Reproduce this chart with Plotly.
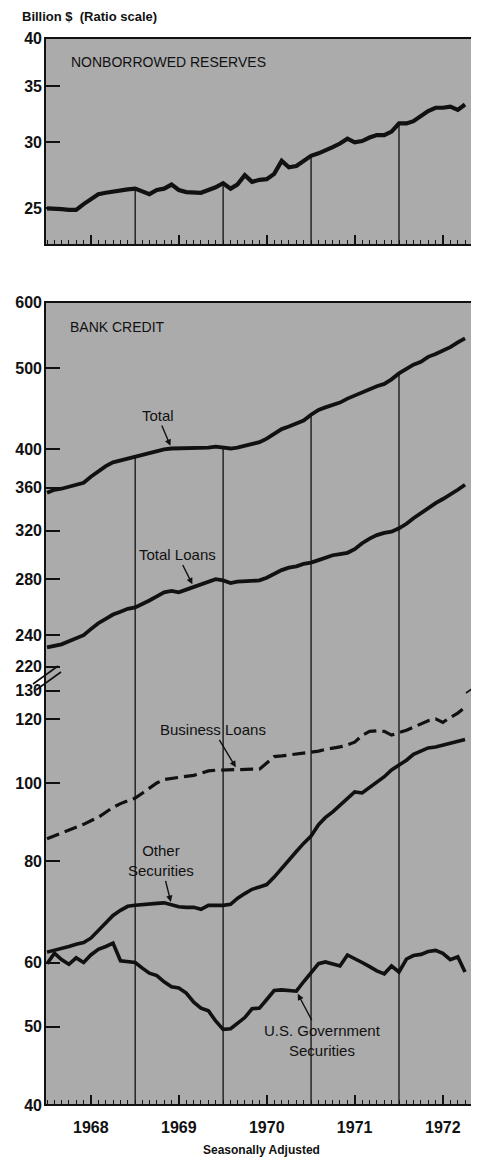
import numpy as np
import pandas as pd
import plotly.graph_objects as go

# ---------------- data (monthly, Jan 1968 - Oct 1972) ----------------
months = pd.date_range("1968-01-01", periods=58, freq="MS")

nonborrowed_reserves = [25.0, 25.0, 24.95, 24.9, 24.9, 25.3, 25.6, 26.0, 26.1, 26.2,
                        26.3, 26.35, 26.4, 26.2, 26.0, 26.3, 26.4, 26.7, 26.3, 26.15,
                        26.1, 26.1, 26.3, 26.5, 26.8, 26.4, 26.7, 27.4, 26.9, 27.05,
                        27.1, 27.5, 28.5, 28.0, 28.1, 28.5, 28.9, 29.1, 29.3, 29.6,
                        29.9, 30.3, 30.0, 30.1, 30.4, 30.6, 30.6, 30.9, 31.6, 31.6,
                        31.8, 32.3, 32.7, 33.0, 33.0, 33.1, 32.8, 33.3]

total_credit = [355, 358, 359, 361, 363, 365, 371, 377, 382, 386,
                388, 390, 392, 394, 396, 398, 400, 401, 401, 401,
                401, 401, 402, 403, 402, 401, 402, 404, 406, 408,
                412, 418, 423, 426, 429, 433, 440, 446, 449, 452,
                455, 460, 464, 468, 472, 476, 479, 485, 493, 499,
                505, 509, 516, 520, 525, 530, 537, 543]

total_loans = [232, 233, 234, 236, 238, 240, 244, 248, 251, 254,
               256, 258, 259, 262, 264, 267, 270, 271, 270, 272,
               274, 276, 278, 280, 279, 277, 278, 278.5, 279, 279,
               281, 284, 287, 289, 290, 292, 293, 295, 297, 299,
               300, 301, 304, 309, 313, 316, 318, 319, 322, 326,
               331, 336, 340, 345, 349, 353, 358, 363]

business_loans = [85.3, 86.0, 86.8, 87.5, 88.2, 88.9, 89.8, 90.7, 92.0, 93.3,
                  94.3, 95.0, 95.8, 97.2, 98.6, 100.0, 101.0, 101.3, 101.5, 101.7,
                  102.2, 102.8, 103.5, 103.7, 103.8, 103.8, 103.8, 103.9, 104.0, 104.0,
                  106.0, 107.8, 108.0, 108.3, 108.5, 108.7, 109.0, 109.5, 110.0, 110.3,
                  110.8, 111.5, 112.3, 114.5, 115.8, 116.0, 115.8, 114.6, 115.3, 116.2,
                  117.2, 118.3, 119.4, 120.0, 118.8, 120.5, 122.0, 124.0]

other_securities = [61.8, 62.1, 62.4, 62.8, 63.2, 63.5, 64.3, 65.8, 67.2, 68.6,
                    69.6, 70.4, 70.6, 70.8, 70.9, 71.0, 71.1, 70.7, 70.3, 70.2,
                    70.2, 69.8, 70.6, 70.6, 70.6, 70.8, 72.0, 73.0, 73.9, 74.4,
                    74.9, 76.5, 78.5, 80.5, 82.3, 84.2, 86.0, 88.8, 90.6, 92.1,
                    93.8, 95.8, 97.5, 97.2, 98.8, 100.3, 101.8, 103.8, 105.3, 106.7,
                    108.5, 109.6, 110.5, 110.8, 111.4, 112.1, 112.8, 113.2]

us_gov_securities = [59.8, 61.6, 60.5, 59.7, 60.8, 60.0, 61.3, 62.3, 62.8, 63.4,
                     60.3, 60.2, 60.0, 59.0, 58.2, 57.8, 56.8, 56.0, 55.8, 55.0,
                     53.6, 52.7, 52.3, 50.8, 49.6, 49.7, 50.4, 51.3, 52.6, 52.7,
                     54.0, 55.4, 55.5, 55.4, 55.3, 56.8, 58.4, 59.8, 60.1, 59.8,
                     59.4, 61.3, 60.7, 60.0, 59.3, 58.6, 58.1, 59.4, 58.4, 60.6,
                     61.2, 61.4, 61.9, 62.1, 61.6, 60.5, 61.0, 58.4]

year_labels = ["1968", "1969", "1970", "1971", "1972"]
top_ticks = [25, 30, 35, 40]
upper_ticks = [220, 240, 280, 320, 360, 400, 500, 600]
lower_ticks = [40, 50, 60, 80, 100, 120, 130]

# ---------------- geometry ----------------
# the page body has an 8px margin, so the figure is drawn 8px smaller
OFF = 8
W, H = 479 - OFF, 1158 - OFF
ML, MR, MT, MB = 45 - OFF, 0, 38 - OFF, H - (1105 - OFF)
PH = H - MT - MB          # plot height in px
PW = W - ML - MR


def py(yref_px):
    """page pixel (reference coords) -> paper fraction"""
    return (H - MB - (yref_px - OFF)) / PH


def pxf(xref_px):
    return (xref_px - OFF - ML) / PW


top_range = [np.log10(22.6), np.log10(40)]
upper_range = [np.log10(213.9), np.log10(600)]
lower_range = [np.log10(40), np.log10(135.2)]

t0 = pd.Timestamp("1968-01-01")
px_per_year = 88.0
x_left = t0 + pd.Timedelta(days=(45 - 47) / px_per_year * 365.25)
x_right = t0 + pd.Timedelta(days=(479 - 47) / px_per_year * 365.25)

mid_years = [pd.Timestamp(f"{y}-07-01") for y in year_labels]
month_ticks = pd.date_range("1968-01-01", "1972-12-01", freq="MS")

INK = "#111111"
BG = "#ababab"
tickfont = dict(family="Liberation Sans, Arial, sans-serif", size=16, color=INK, weight="bold")
labfont = dict(family="Liberation Sans, Arial, sans-serif", size=15, color=INK)

fig = go.Figure()

# ---- vertical year lines (from the bottom up to the curve) ----
year_idx = [12, 24, 36, 48]
vx, vy = [], []
for i in year_idx:
    vx += [months[i], months[i], None]
    vy += [10 ** top_range[0], nonborrowed_reserves[i], None]
fig.add_trace(go.Scatter(x=vx, y=vy, xaxis="x2", yaxis="y3", mode="lines",
                         line=dict(color=INK, width=1.3), hoverinfo="skip", showlegend=False))
vx, vy, ux, uy = [], [], [], []
for i in year_idx:
    vx += [months[i], months[i], None]
    vy += [10 ** lower_range[0], 10 ** lower_range[1], None]
    ux += [months[i], months[i], None]
    uy += [10 ** upper_range[0], total_credit[i], None]
fig.add_trace(go.Scatter(x=vx, y=vy, xaxis="x", yaxis="y", mode="lines",
                         line=dict(color=INK, width=1.3), hoverinfo="skip", showlegend=False))
fig.add_trace(go.Scatter(x=ux, y=uy, xaxis="x", yaxis="y2", mode="lines",
                         line=dict(color=INK, width=1.3), hoverinfo="skip", showlegend=False))

# ---- series ----
fig.add_trace(go.Scatter(x=months, y=nonborrowed_reserves, xaxis="x2", yaxis="y3", mode="lines",
                         line=dict(color=INK, width=4.2), name="Nonborrowed Reserves"))
fig.add_trace(go.Scatter(x=months, y=total_credit, xaxis="x", yaxis="y2", mode="lines",
                         line=dict(color=INK, width=3.8), name="Total"))
fig.add_trace(go.Scatter(x=months, y=total_loans, xaxis="x", yaxis="y2", mode="lines",
                         line=dict(color=INK, width=3.8), name="Total Loans"))
fig.add_trace(go.Scatter(x=months, y=business_loans, xaxis="x", yaxis="y", mode="lines",
                         line=dict(color=INK, width=3.2, dash="13px,6px"), name="Business Loans"))
fig.add_trace(go.Scatter(x=months, y=other_securities, xaxis="x", yaxis="y", mode="lines",
                         line=dict(color=INK, width=3.6), name="Other Securities"))
fig.add_trace(go.Scatter(x=months, y=us_gov_securities, xaxis="x", yaxis="y", mode="lines",
                         line=dict(color=INK, width=3.6), name="U.S. Government Securities"))

# ---- axes ----
xcommon = dict(type="date", range=[x_left, x_right], tickmode="array", tickvals=mid_years,
               ticktext=year_labels, ticks="inside", ticklen=10, tickwidth=1.5, tickcolor=INK,
               showgrid=False, zeroline=False, showline=False, automargin=False,
               minor=dict(ticks="inside", ticklen=5, tickwidth=1.2, tickcolor=INK,
                          tickmode="array", tickvals=list(month_ticks), showgrid=False))


def ycommon(rng, ticks, dom):
    return dict(type="log", range=rng, domain=dom, tickmode="array", tickvals=ticks,
                ticktext=[str(t) for t in ticks], ticks="inside", ticklen=15, tickwidth=1.5,
                tickcolor=INK, showline=False, showgrid=False, zeroline=False,
                tickfont=tickfont, ticklabelstandoff=2, automargin=False)


fig.update_layout(
    template="none",
    width=W, height=H, margin=dict(l=ML, r=MR, t=MT, b=MB, autoexpand=False),
    paper_bgcolor="white", plot_bgcolor="white", showlegend=False,
    font=dict(family="Liberation Sans, Arial, sans-serif", color=INK),
    xaxis=dict(domain=[0, 1], anchor="y", ticklabelstandoff=11, tickfont=tickfont, **xcommon),
    xaxis2=dict(domain=[0, 1], anchor="y3", matches="x", showticklabels=False, **xcommon),
    yaxis=ycommon(lower_range, lower_ticks, [0, py(677)]),
    yaxis2=dict(anchor="x", **ycommon(upper_range, upper_ticks, [py(677), py(302)])),
    yaxis3=dict(anchor="x2", **ycommon(top_range, top_ticks, [py(245), 1])),
)

# ---- panel fills (below) and frames (above) ----
shapes = []
for (y0, y1) in [(py(245), 1), (0, py(302))]:
    shapes.append(dict(type="rect", xref="paper", yref="paper", x0=0, x1=1.05, y0=y0, y1=y1,
                       fillcolor=BG, line=dict(width=0), layer="below"))
    shapes.append(dict(type="rect", xref="paper", yref="paper", x0=0, x1=1.05, y0=y0, y1=y1,
                       fillcolor="rgba(0,0,0,0)", line=dict(color=INK, width=2), layer="above"))
# right-hand tick marks at the same axis values (log axis -> log10 positions)
for yref, ticks in [("y3", top_ticks[:-1]), ("y2", upper_ticks[:-1]), ("y", lower_ticks[1:])]:
    for t in ticks:
        shapes.append(dict(type="line", xref="paper", yref=yref, x0=1 - 14 / PW, x1=1.0,
                           y0=np.log10(t), y1=np.log10(t), line=dict(color=INK, width=1.5)))
# axis-break marks
for (xa, ya, xb, yb) in [(33, 684, 58, 666), (36, 690, 61, 672), (466, 693, 482, 682)]:
    shapes.append(dict(type="line", xref="paper", yref="paper", x0=pxf(xa), y0=py(ya),
                       x1=pxf(xb), y1=py(yb), line=dict(color=INK, width=1.6)))
fig.update_layout(shapes=shapes)

# ---- text ----
ann = [
    dict(text="Billion $  (Ratio scale)", xref="paper", yref="paper", x=pxf(20), y=py(17),
         xanchor="left", yanchor="middle", showarrow=False,
         font=dict(family="Liberation Sans, Arial, sans-serif", size=13, color=INK, weight="bold")),
    dict(text="NONBORROWED RESERVES", xref="paper", yref="paper", x=pxf(69), y=py(62),
         xanchor="left", yanchor="middle", showarrow=False, font=dict(labfont, size=14)),
    dict(text="BANK CREDIT", xref="paper", yref="paper", x=pxf(68), y=py(327),
         xanchor="left", yanchor="middle", showarrow=False, font=dict(labfont, size=14)),
    dict(text="Seasonally Adjusted", xref="paper", yref="paper", x=pxf(261), y=py(1150),
         xanchor="center", yanchor="middle", showarrow=False,
         font=dict(family="Liberation Sans, Arial, sans-serif", size=12, color=INK, weight="bold")),
]


def arrow_label(text, idx, series, yref, ax, ay):
    return dict(text=text, x=months[idx], y=np.log10(series[idx]), xref="x", yref=yref,
                ax=ax, ay=ay, axref="pixel", ayref="pixel", showarrow=True,
                arrowhead=2, arrowsize=0.9, arrowwidth=1.4, arrowcolor=INK, standoff=3,
                font=labfont, align="center", bgcolor="rgba(0,0,0,0)")


ann += [
    arrow_label("Total", 17, total_credit, "y2", -14, -33),
    arrow_label("Total Loans", 20, total_loans, "y2", -16, -32),
    arrow_label("Business Loans", 26, business_loans, "y", -24, -40),
    arrow_label("Other<br>Securities", 17, other_securities, "y", -11, -44),
    arrow_label("U.S. Government<br>Securities", 34, us_gov_securities, "y", 26, 49),
]
fig.update_layout(annotations=ann)

fig.write_html("out.html")
